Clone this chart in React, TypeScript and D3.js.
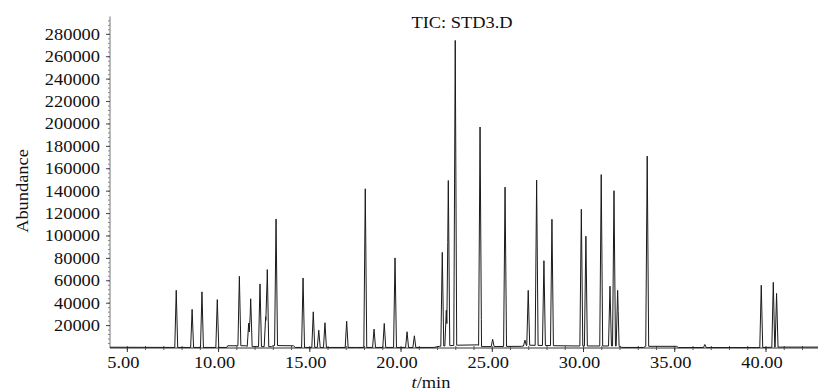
import React from 'react';
import * as d3 from 'd3';

// Peak retention times (min) and apex abundances
const peakTimes = [7.68, 8.55, 9.09, 9.93, 11.14, 11.65, 11.76, 12.27, 12.58, 12.67, 13.15, 14.63, 15.19, 15.49, 15.83, 17.02, 18.04, 18.52, 19.08, 19.67, 20.33, 20.73, 22.26, 22.48, 22.59, 22.97, 24.33, 25.02, 25.70, 26.79, 26.97, 27.43, 27.83, 28.27, 29.88, 30.13, 30.97, 31.45, 31.67, 31.87, 33.49, 36.65, 39.74, 40.40, 40.58];
const peakHeights = [51000, 34000, 49600, 42700, 62000, 21000, 42700, 56000, 26700, 68800, 113000, 62000, 31800, 15400, 22000, 23400, 141600, 16300, 21400, 79900, 14000, 10400, 83700, 31800, 147500, 272200, 195500, 6500, 142200, 5000, 49000, 147500, 75700, 112800, 122000, 98000, 153000, 53400, 138600, 49600, 169800, 2700, 55500, 57900, 48000];

// Baseline drift knots (min, abundance)
const baseTimes = [4.05, 7.5, 10.45, 10.5, 11.5, 11.6, 12.9, 13.0, 14.1, 14.2, 17.5, 21.8, 22.1, 23.1, 24.2, 24.4, 26.6, 27.0, 28.6, 29.7, 31.9, 32.1, 33.3, 33.4, 35.1, 35.2, 39.5, 40.8, 42.85];
const baseLevels = [700, 500, 500, 2000, 2000, 1200, 1200, 2200, 2000, 500, 500, 500, 1500, 2500, 2800, 1200, 1500, 2500, 2000, 1800, 1800, 500, 500, 1500, 1500, 400, 400, 800, 800];

const xTickValues = [5, 10, 15, 20, 25, 30, 35, 40];
const yTickValues = [20000, 40000, 60000, 80000, 100000, 120000, 140000, 160000, 180000, 200000, 220000, 240000, 260000, 280000];

const title = 'TIC: STD3.D';
const yTitle = 'Abundance';

const PEAK_HALF_WIDTH = 0.08;
const W = 820;
const H = 392;
const FONT = '"Liberation Serif", "Times New Roman", serif';
const FS = 16;
const SX = 1.15;

export default function App() {
  const x = d3.scaleLinear().domain([4.05, 42.85]).range([110, 818]);
  const y = d3.scaleLinear().domain([0, 296000]).range([348, 16.4]);
  const base = d3.scaleLinear().domain(baseTimes).range(baseLevels).clamp(true);

  const tset = new Set<number>();
  baseTimes.forEach((t) => tset.add(t));
  peakTimes.forEach((t) => {
    tset.add(+(t - PEAK_HALF_WIDTH).toFixed(4));
    tset.add(t);
    tset.add(+(t + PEAK_HALF_WIDTH).toFixed(4));
  });
  const ts = Array.from(tset).sort((a, b) => a - b);
  const value = (t: number) => {
    let v = base(t);
    peakTimes.forEach((p, i) => {
      const d = Math.abs(t - p);
      if (d < PEAK_HALF_WIDTH) v += peakHeights[i] * (1 - d / PEAK_HALF_WIDTH);
    });
    return v;
  };
  const pts: [number, number][] = ts.map((t) => [t, value(t)]);
  const line = d3.line<[number, number]>().x((d) => x(d[0])).y((d) => y(d[1]));

  const minorX = d3.range(5, 43, 1).concat([4]).filter((t) => t >= 4.05 && t <= 42.85);
  const minorY = d3.range(4000, 296000, 4000);
  const y0 = y(0);
  const xAxisX = x(4.05);

  return (
    <svg width={W} height={H} style={{ position: 'absolute', left: 0, top: 0, background: '#fff' }} fontFamily={FONT}>
      <rect x={0} y={0} width={W} height={H} fill="#fff" />
      {/* y axis */}
      <line x1={xAxisX} x2={xAxisX} y1={y(296000)} y2={y0} stroke="#777" strokeWidth={1} />
      {minorY.map((v) => (
        <line key={'my' + v} x1={xAxisX - 2} x2={xAxisX} y1={y(v)} y2={y(v)} stroke="#888" strokeWidth={1} />
      ))}
      {yTickValues.map((v) => (
        <g key={'yt' + v}>
          <line x1={xAxisX - 4} x2={xAxisX} y1={y(v)} y2={y(v)} stroke="#444" strokeWidth={1} />
          <text transform={`translate(100,${y(v) + 5.4}) scale(${SX},1)`} textAnchor="end" fontSize={FS} fill="#111">
            {String(v)}
          </text>
        </g>
      ))}
      {/* x axis */}
      <line x1={xAxisX} x2={818} y1={y0} y2={y0} stroke="#333" strokeWidth={1} />
      {minorX.map((t) => (
        <line key={'mx' + t} x1={x(t)} x2={x(t)} y1={y0 - 2} y2={y0 + 2} stroke="#555" strokeWidth={1} />
      ))}
      {xTickValues.map((t) => (
        <g key={'xt' + t}>
          <line x1={x(t)} x2={x(t)} y1={y0} y2={y0 + 4} stroke="#333" strokeWidth={1} />
          <text transform={`translate(${x(t) - 4},368) scale(${SX},1)`} textAnchor="middle" fontSize={FS} fill="#111">
            {d3.format('.2f')(t)}
          </text>
        </g>
      ))}
      {/* trace */}
      <path d={line(pts) || ''} fill="none" stroke="#1a1a1a" strokeWidth={1} strokeLinejoin="round" />
      {/* titles */}
      <text transform={`translate(462,28) scale(${SX},1)`} textAnchor="middle" fontSize={FS} fill="#111">
        {title}
      </text>
      <text transform={`translate(28,191) rotate(-90) scale(${SX},1)`} textAnchor="middle" fontSize={FS} fill="#111">
        {yTitle}
      </text>
      <text transform={`translate(431,388) scale(${SX},1)`} textAnchor="middle" fontSize={FS} fill="#111">
        <tspan fontStyle="italic">t</tspan>
        <tspan>/min</tspan>
      </text>
    </svg>
  );
}
